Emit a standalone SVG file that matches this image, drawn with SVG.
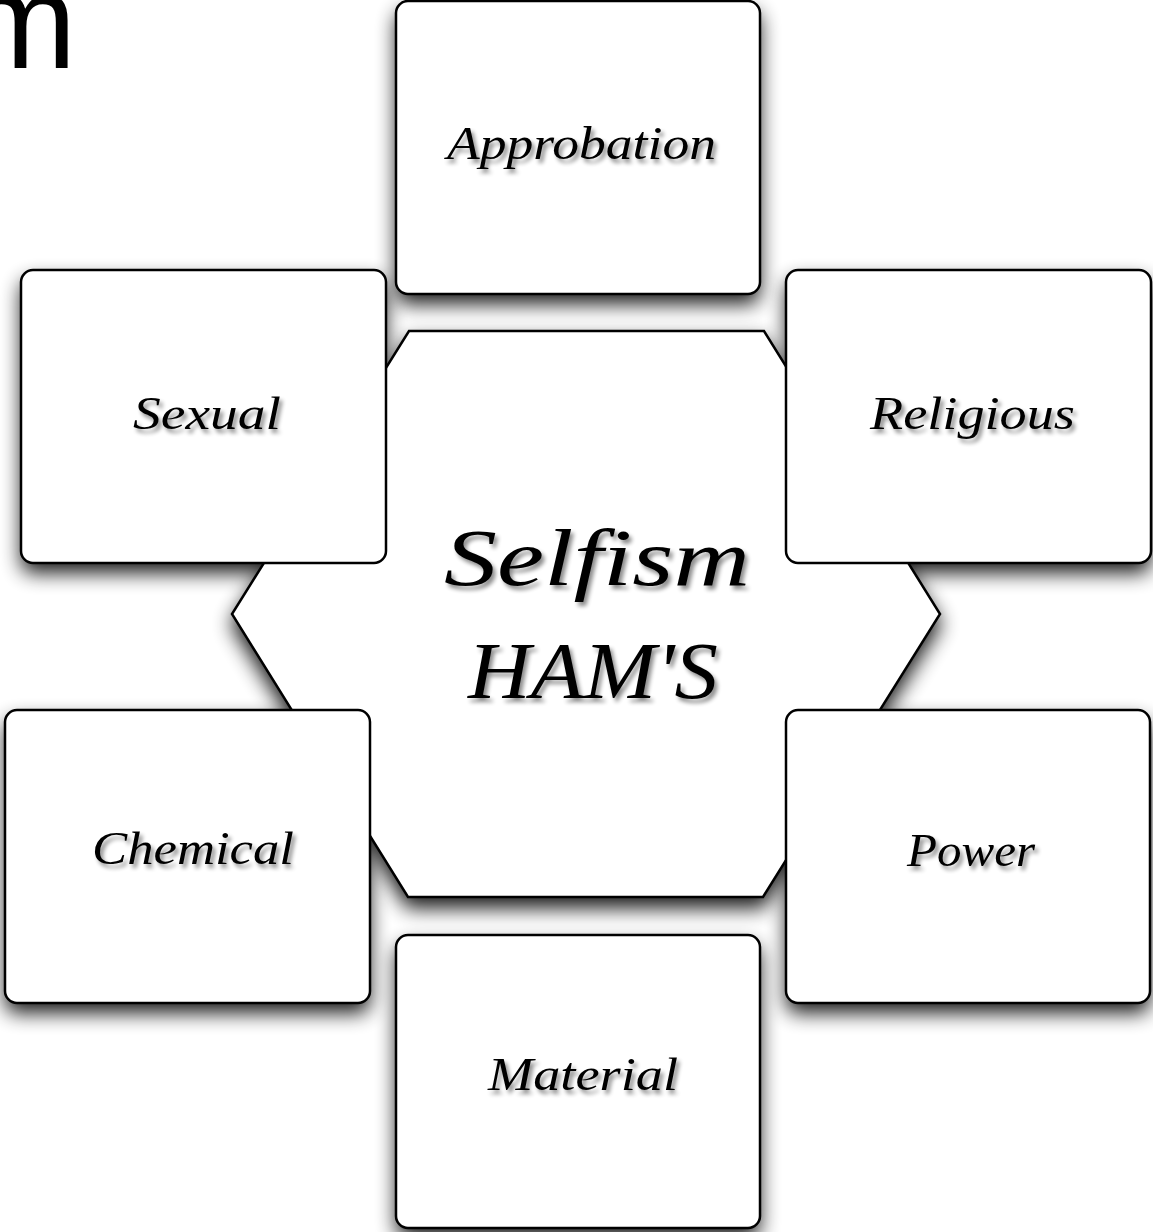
<svg xmlns="http://www.w3.org/2000/svg" width="1153" height="1232" viewBox="0 0 1153 1232">
  <defs>
    <filter id="shadow" x="-20%" y="-20%" width="140%" height="150%">
      <feGaussianBlur in="SourceAlpha" stdDeviation="10"/>
      <feOffset dx="0" dy="10" result="b"/>
      <feComponentTransfer><feFuncA type="linear" slope="0.9"/></feComponentTransfer>
    </filter>
    <filter id="hexshadow" x="-20%" y="-20%" width="140%" height="150%">
      <feGaussianBlur in="SourceAlpha" stdDeviation="10"/>
      <feOffset dx="0" dy="10" result="b"/>
      <feComponentTransfer><feFuncA type="linear" slope="0.9"/></feComponentTransfer>
      <feMerge><feMergeNode/><feMergeNode in="SourceGraphic"/></feMerge>
    </filter>
    <filter id="tshadow" x="-10%" y="-30%" width="120%" height="160%">
      <feGaussianBlur in="SourceAlpha" stdDeviation="2"/>
      <feOffset dx="3" dy="4" result="o"/>
      <feComponentTransfer in="o" result="s"><feFuncA type="linear" slope="0.45"/></feComponentTransfer>
      <feMerge><feMergeNode in="s"/><feMergeNode in="SourceGraphic"/></feMerge>
    </filter>
  </defs>
  <style>
    .box { fill: #ffffff; stroke: #000000; stroke-width: 2.5; }
    .sh { fill: #000000; filter: url(#shadow); }
    .lbl { font-family: "Liberation Serif", "DejaVu Serif", serif; font-style: italic; font-size: 46px; fill: #000000; filter: url(#tshadow); }
    .big { font-size: 80px; }
    .title { font-family: "Liberation Sans", Arial, sans-serif; font-size: 135px; fill: #000000; }
  </style>
  <rect x="0" y="0" width="1153" height="1232" fill="#ffffff"/>

  <text class="title" x="-36" y="68">m</text>

  <g id="shadows">
    <rect class="sh" x="396" y="1" width="364" height="293" rx="12"/>
    <rect class="sh" x="21" y="270" width="365" height="293" rx="12"/>
    <rect class="sh" x="786" y="270" width="365" height="293" rx="12"/>
    <rect class="sh" x="5" y="710" width="365" height="293" rx="12"/>
    <rect class="sh" x="786" y="710" width="364" height="293" rx="12"/>
    <rect class="sh" x="396" y="935" width="364" height="293" rx="12"/>
  </g>

  <g id="connectors"/>

  <g id="node-selfism">
    <polygon class="box" points="409,331 764,331 940,614 763,897 408,897 232,614" filter="url(#hexshadow)" stroke-linejoin="miter"/>
  </g>

  <g id="node-approbation">
    <rect class="box" x="396" y="1" width="364" height="293" rx="12"/>
    <text class="lbl" x="447" y="159" textLength="269" lengthAdjust="spacingAndGlyphs">Approbation</text>
  </g>
  <g id="node-sexual">
    <rect class="box" x="21" y="270" width="365" height="293" rx="12"/>
    <text class="lbl" x="133" y="429" textLength="148" lengthAdjust="spacingAndGlyphs">Sexual</text>
  </g>
  <g id="node-religious">
    <rect class="box" x="786" y="270" width="365" height="293" rx="12"/>
    <text class="lbl" x="870" y="429" textLength="205" lengthAdjust="spacingAndGlyphs">Religious</text>
  </g>
  <g id="node-chemical">
    <rect class="box" x="5" y="710" width="365" height="293" rx="12"/>
    <text class="lbl" x="92" y="864" textLength="202" lengthAdjust="spacingAndGlyphs">Chemical</text>
  </g>
  <g id="node-power">
    <rect class="box" x="786" y="710" width="364" height="293" rx="12"/>
    <text class="lbl" x="907" y="866" textLength="128" lengthAdjust="spacingAndGlyphs">Power</text>
  </g>
  <g id="node-material">
    <rect class="box" x="396" y="935" width="364" height="293" rx="12"/>
    <text class="lbl" x="488" y="1090" textLength="190" lengthAdjust="spacingAndGlyphs">Material</text>
  </g>

  <g id="node-selfism-label">
    <text class="lbl big" x="444" y="585" textLength="306" lengthAdjust="spacingAndGlyphs">Selfism</text>
    <text class="lbl big" x="468" y="698" textLength="250" lengthAdjust="spacingAndGlyphs">HAM'S</text>
  </g>
</svg>
